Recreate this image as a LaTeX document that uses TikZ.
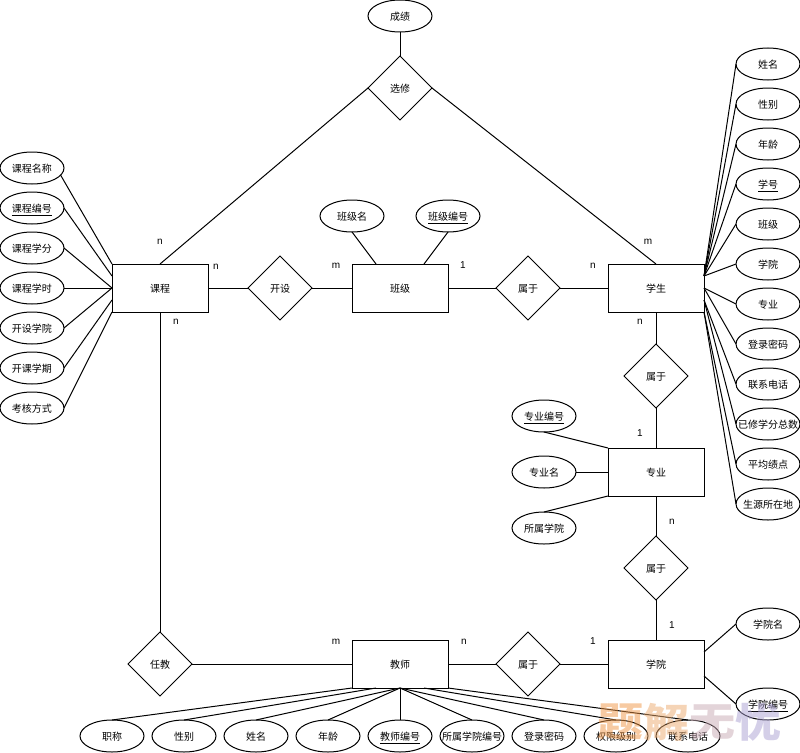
\documentclass[tikz,border=0pt]{standalone}
\usepackage{fontspec}
\setmainfont{Liberation Sans}
\newfontfamily\cjk{Noto Sans CJK SC}
\usetikzlibrary{shapes.geometric}
\newcommand{\wide}[1]{\makebox[0pt]{#1}}
\definecolor{wmA}{RGB}{240,150,70}
\definecolor{wmB}{RGB}{236,170,110}
\definecolor{wmC}{RGB}{200,170,180}
\definecolor{wmD}{RGB}{170,160,210}
\tikzset{
  cjktext/.style={inner sep=0pt,outer sep=0pt,text height=9.8pt,text depth=0.2pt,font=\cjk\fontsize{10}{12}\selectfont},
  entity/.style={draw,cjktext,rectangle,minimum width=96pt,minimum height=48pt},
  rel/.style={draw,cjktext,diamond,aspect=1,minimum width=64pt,minimum height=64pt},
  attr/.style={draw,cjktext,ellipse,minimum width=64pt,minimum height=32pt},
  card/.style={inner sep=0pt,yshift=-1.5pt,font=\fontsize{10}{12}\selectfont},
  wmark/.style={inner sep=0pt,opacity=0.5,xscale=1.15,transform shape,font=\cjk\bfseries\fontsize{40}{44}\selectfont},
}
\begin{document}
\begin{tikzpicture}[x=1pt,y=-1pt,line width=1pt]
\useasboundingbox (0,0) rectangle (800,752);
\node[entity] (kecheng) at (160,288) {课程};
\node[entity] (banji) at (400,288) {班级};
\node[entity] (xuesheng) at (656,288) {学生};
\node[entity] (zhuanye) at (656,472) {专业};
\node[entity] (xueyuan) at (656,664) {学院};
\node[entity] (jiaoshi) at (400,664) {教师};
\node[rel] (xuanxiu) at (400,88) {选修};
\node[rel] (kaishe) at (280,288) {开设};
\node[rel] (shuyuA) at (528,288) {属于};
\node[rel] (shuyuB) at (656,376) {属于};
\node[rel] (shuyuC) at (656,568) {属于};
\node[rel] (shuyuD) at (528,664) {属于};
\node[rel] (renjiao) at (160,664) {任教};
\node[attr] (chengji) at (400,16) {成绩};
\node[attr] (kcmc) at (32,168) {课程名称};
\node[attr] (kcbh) at (32,208) {\underline{课程编号}};
\node[attr] (kcxf) at (32,248) {课程学分};
\node[attr] (kcxs) at (32,288) {课程学时};
\node[attr] (ksxy) at (32,328) {开设学院};
\node[attr] (kkxq) at (32,368) {开课学期};
\node[attr] (khfs) at (32,408) {考核方式};
\node[attr] (bjm) at (352,216) {班级名};
\node[attr] (bjbh) at (448,216) {\underline{班级编号}};
\node[attr] (xsxm) at (768,64) {姓名};
\node[attr] (xsxb) at (768,104) {性别};
\node[attr] (xsnl) at (768,144) {年龄};
\node[attr] (xsxh) at (768,184) {\underline{学号}};
\node[attr] (xsbj) at (768,224) {班级};
\node[attr] (xsxy) at (768,264) {学院};
\node[attr] (xszy) at (768,304) {专业};
\node[attr] (xsmm) at (768,344) {登录密码};
\node[attr] (xsdh) at (768,384) {联系电话};
\node[attr] (xszf) at (768,424) {\wide{已修学分总数}};
\node[attr] (xsjd) at (768,464) {平均绩点};
\node[attr] (xssy) at (768,504) {\wide{生源所在地}};
\node[attr] (zybh) at (544,416) {\underline{专业编号}};
\node[attr] (zym) at (544,472) {专业名};
\node[attr] (zyxy) at (544,528) {所属学院};
\node[attr] (xym) at (768,624) {学院名};
\node[attr] (xybh) at (768,704) {\underline{学院编号}};
\node[attr] (jszc) at (112,736) {职称};
\node[attr] (jsxb) at (184,736) {性别};
\node[attr] (jsxm) at (256,736) {姓名};
\node[attr] (jsnl) at (328,736) {年龄};
\node[attr] (jsbh) at (400,736) {\underline{教师编号}};
\node[attr] (jsxy) at (472,736) {\wide{所属学院编号}};
\node[attr] (jsmm) at (544,736) {登录密码};
\node[attr] (jsjb) at (616,736) {权限级别};
\node[attr] (jsdh) at (688,736) {联系电话};
\node[card] (cardA) at (160,240) {n};
\node[card] (cardB) at (216,265) {n};
\node[card] (cardC) at (176,320) {n};
\node[card] (cardD) at (336,264) {m};
\node[card] (cardE) at (463,264) {1};
\node[card] (cardF) at (593,264) {n};
\node[card] (cardG) at (648,240) {m};
\node[card] (cardH) at (640,320) {n};
\node[card] (cardI) at (640,432) {1};
\node[card] (cardJ) at (672,520) {n};
\node[card] (cardK) at (672,624) {1};
\node[card] (cardL) at (593,640) {1};
\node[card] (cardM) at (464,640) {n};
\node[card] (cardN) at (336,640) {m};
\draw (chengji) -- (xuanxiu);
\draw (xuanxiu.west) -- (kecheng.north);
\draw (xuanxiu.east) -- (xuesheng.north);
\draw (kecheng) -- (kaishe);
\draw (kaishe) -- (banji);
\draw (banji) -- (shuyuA);
\draw (shuyuA) -- (xuesheng);
\draw (xuesheng) -- (shuyuB);
\draw (shuyuB) -- (zhuanye);
\draw (zhuanye) -- (shuyuC);
\draw (shuyuC) -- (xueyuan);
\draw (xueyuan) -- (shuyuD);
\draw (shuyuD) -- (jiaoshi);
\draw (jiaoshi) -- (renjiao);
\draw (renjiao) -- (kecheng);
\draw (kcmc.-14) -- (kecheng.north west);
\draw (kcbh.east) -- ([yshift=12pt]kecheng.west);
\draw (kcxf.east) -- (kecheng.west);
\draw (kcxs.east) -- (kecheng.west);
\draw (ksxy.east) -- (kecheng.west);
\draw (kkxq.east) -- ([yshift=-12pt]kecheng.west);
\draw (khfs.east) -- (kecheng.south west);
\draw (bjm.south) -- ([xshift=-24pt]banji.north);
\draw (bjbh.south) -- ([xshift=24pt]banji.north);
\draw (xsxm.west) -- ([yshift=12pt]xuesheng.east);
\draw (xsxb.west) -- ([yshift=12pt]xuesheng.east);
\draw (xsnl.west) -- ([yshift=12pt]xuesheng.east);
\draw (xsxh.west) -- ([yshift=12pt]xuesheng.east);
\draw (xsbj.west) -- ([yshift=12pt]xuesheng.east);
\draw (xsxy.west) -- ([yshift=12pt]xuesheng.east);
\draw (xszy.west) -- (xuesheng.east);
\draw (xsmm.west) -- (xuesheng.east);
\draw (xsdh.west) -- ([yshift=-12pt]xuesheng.east);
\draw (xszf.west) -- ([yshift=-12pt]xuesheng.east);
\draw (xsjd.west) -- (xuesheng.south east);
\draw (xssy.west) -- (xuesheng.south east);
\draw (zybh.south) -- (zhuanye.north west);
\draw (zym.east) -- (zhuanye.west);
\draw (zyxy.north) -- (zhuanye.south west);
\draw (xym.west) -- ([yshift=12pt]xueyuan.east);
\draw (xybh.west) -- ([yshift=-12pt]xueyuan.east);
\draw (jszc.north) -- (jiaoshi.south west);
\draw (jsxb.north) -- ([xshift=-24pt]jiaoshi.south);
\draw (jsxm.north) -- (jiaoshi.south);
\draw (jsnl.north) -- (jiaoshi.south);
\draw (jsbh.north) -- (jiaoshi.south);
\draw (jsxy.north) -- (jiaoshi.south);
\draw (jsmm.north) -- (jiaoshi.south);
\draw (jsjb.north) -- ([xshift=24pt]jiaoshi.south);
\draw (jsdh.north) -- (jiaoshi.south east);
\node[wmark,text=wmA] (wmarkA) at (620,722) {题};
\node[wmark,text=wmB] (wmarkB) at (666,722) {解};
\node[wmark,text=wmC] (wmarkC) at (712,722) {无};
\node[wmark,text=wmD] (wmarkD) at (758,722) {忧};
\end{tikzpicture}
\end{document}
